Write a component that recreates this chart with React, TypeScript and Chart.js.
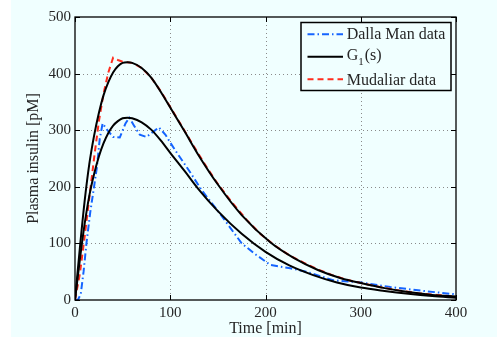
import React, { useEffect, useRef } from 'react';
import { Chart, registerables } from 'chart.js';

Chart.register(...registerables);

// ---------- data ----------
const xTickValues = [0, 100, 200, 300, 400];
const yTickValues = [0, 100, 200, 300, 400, 500];

const dallaTime = [0, 3, 6, 9, 12, 16, 20, 23, 26, 29, 34, 40, 47, 53, 57, 62, 68, 75, 82, 88, 95, 100, 107, 120, 133, 152, 175, 190, 205, 226, 243, 271, 300, 331, 366, 400];
const dallaValue = [0, 0, 10, 50, 100, 155, 200, 235, 285, 312, 300, 288, 287, 312, 322, 308, 292, 288, 297, 305, 292, 278, 260, 228, 194, 153, 100, 80, 62, 56, 50, 35, 31, 23, 16, 10];

const g1DallaTime = [0, 5, 10, 15, 20, 25, 30, 35, 40, 45, 50, 55, 60, 70, 80, 90, 100, 115, 130, 150, 175, 200, 225, 250, 275, 300, 325, 350, 375, 400];
const g1DallaValue = [0, 70, 133, 184, 222, 253, 277, 295, 308, 316, 321, 322, 321, 314, 301, 282, 260, 228, 195, 157, 117, 85, 61, 44, 31, 22, 16, 11, 7, 4];

const g1MudTime = [0, 5, 10, 15, 20, 25, 30, 35, 40, 45, 50, 55, 60, 70, 80, 90, 100, 115, 130, 150, 175, 205, 230, 255, 280, 300, 325, 350, 375, 400];
const g1MudValue = [0, 90, 173, 240, 290, 330, 362, 385, 402, 413, 419, 420, 419, 410, 393, 368, 340, 298, 255, 204, 150, 102, 74, 53, 38, 30, 21, 14, 9, 6];

const mudTime = [0, 5, 10, 15, 20, 25, 30, 35, 40, 45, 50, 60, 70, 80, 90, 100, 110, 120, 130, 140, 150, 165, 180, 195, 210, 225, 240, 255, 270, 285, 300, 320, 340, 360, 380, 400];
const mudValue = [0, 45, 110, 180, 250, 315, 365, 402, 428, 424, 421, 419, 410, 393, 369, 341, 313, 285, 257, 230, 205, 172, 142, 116, 96, 79, 66, 54, 44, 36, 30, 23, 17, 12, 9, 6];

const legendNames = ['Dalla Man data', 'G', 'Mudaliar data'];
const legendSub = '1';
const legendAfterSub = '(s)';

const xTitle = 'Time [min]';
const yTitle = 'Plasma insulin [pM]';

// ---------- styles ----------
const FONT = '"Liberation Serif", "Times New Roman", serif';
const BG = '#f0ffff';
const TEXT = '#262626';
const BLUE = 'rgb(20, 100, 255)';
const RED = 'rgb(255, 45, 30)';
const BLACK = '#000000';
const BLUE_DASH = [7, 3, 1.5, 3];
const RED_DASH = [6, 4];

const toPoints = (t: number[], v: number[]) => t.map((x, i) => ({ x, y: v[i] }));

const framePlugin = {
  id: 'matlabFrame',
  beforeDatasetsDraw(chart: any) {
    const { ctx, chartArea: a, scales } = chart;
    const xs = scales.x;
    const ys = scales.y;
    ctx.save();
    ctx.strokeStyle = '#8a8a8a';
    ctx.lineWidth = 1;
    ctx.setLineDash([1, 3]);
    xTickValues.forEach((v) => {
      if (v === xTickValues[0] || v === xTickValues[xTickValues.length - 1]) return;
      const px = Math.round(xs.getPixelForValue(v)) + 0.5;
      ctx.beginPath();
      ctx.moveTo(px, a.top);
      ctx.lineTo(px, a.bottom);
      ctx.stroke();
    });
    yTickValues.forEach((v) => {
      if (v === yTickValues[0] || v === yTickValues[yTickValues.length - 1]) return;
      const py = Math.round(ys.getPixelForValue(v)) + 0.5;
      ctx.beginPath();
      ctx.moveTo(a.left, py);
      ctx.lineTo(a.right, py);
      ctx.stroke();
    });
    ctx.restore();
  },
  afterDatasetsDraw(chart: any) {
    const { ctx, chartArea: a, scales } = chart;
    const xs = scales.x;
    const ys = scales.y;
    ctx.save();
    ctx.setLineDash([]);
    ctx.strokeStyle = BLACK;
    ctx.lineWidth = 1.3;
    ctx.strokeRect(a.left, a.top, a.right - a.left, a.bottom - a.top);
    const tl = 5;
    ctx.lineWidth = 1;
    xTickValues.forEach((v) => {
      const px = Math.round(xs.getPixelForValue(v)) + 0.5;
      ctx.beginPath();
      ctx.moveTo(px, a.bottom);
      ctx.lineTo(px, a.bottom - tl);
      ctx.moveTo(px, a.top);
      ctx.lineTo(px, a.top + tl);
      ctx.stroke();
    });
    yTickValues.forEach((v) => {
      const py = Math.round(ys.getPixelForValue(v)) + 0.5;
      ctx.beginPath();
      ctx.moveTo(a.left, py);
      ctx.lineTo(a.left + tl, py);
      ctx.moveTo(a.right, py);
      ctx.lineTo(a.right - tl, py);
      ctx.stroke();
    });

    // legend
    const bx = 290, by = 22.5, bw = 150, bh = 68;
    ctx.fillStyle = BG;
    ctx.fillRect(bx, by, bw, bh);
    ctx.lineWidth = 1.5;
    ctx.strokeStyle = BLACK;
    ctx.strokeRect(bx, by, bw, bh);

    const lx0 = 296.5, lx1 = 332, tx = 335.7;
    const rows = [
      { y: 34.3, color: BLUE, dash: BLUE_DASH, base: 39.3 },
      { y: 56.7, color: BLACK, dash: [], base: 60 },
      { y: 79.3, color: RED, dash: RED_DASH, base: 85 },
    ];
    rows.forEach((r, i) => {
      ctx.save();
      ctx.strokeStyle = r.color;
      ctx.lineWidth = 2;
      ctx.setLineDash(r.dash);
      ctx.beginPath();
      ctx.moveTo(lx0, r.y);
      ctx.lineTo(lx1, r.y);
      ctx.stroke();
      ctx.restore();
      ctx.fillStyle = TEXT;
      ctx.textBaseline = 'alphabetic';
      ctx.textAlign = 'left';
      ctx.font = `16px ${FONT}`;
      ctx.fillText(legendNames[i], tx, r.base);
      if (i === 1) {
        const w = ctx.measureText(legendNames[i]).width;
        ctx.font = `11px ${FONT}`;
        ctx.fillText(legendSub, tx + w, r.base + 5);
        const w2 = ctx.measureText(legendSub).width;
        ctx.font = `16px ${FONT}`;
        ctx.fillText(legendAfterSub, tx + w + w2 + 1, r.base);
      }
    });
    ctx.restore();
  },
};

export default function App() {
  const ref = useRef<HTMLCanvasElement | null>(null);

  useEffect(() => {
    if (!ref.current) return;
    const chart = new Chart(ref.current, {
      type: 'line',
      data: {
        datasets: [
          {
            label: 'G1(s) Mudaliar',
            data: toPoints(g1MudTime, g1MudValue),
            borderColor: BLACK,
            borderWidth: 2,
            pointRadius: 0,
            cubicInterpolationMode: 'monotone',
            order: 0,
          },
          {
            label: 'G1(s) Dalla Man',
            data: toPoints(g1DallaTime, g1DallaValue),
            borderColor: BLACK,
            borderWidth: 2,
            pointRadius: 0,
            cubicInterpolationMode: 'monotone',
            order: 0,
          },
          {
            label: 'Mudaliar data',
            data: toPoints(mudTime, mudValue),
            borderColor: RED,
            borderWidth: 2,
            borderDash: RED_DASH,
            pointRadius: 0,
            tension: 0,
            order: 1,
          },
          {
            label: 'Dalla Man data',
            data: toPoints(dallaTime, dallaValue),
            borderColor: BLUE,
            borderWidth: 2,
            borderDash: BLUE_DASH,
            pointRadius: 0,
            tension: 0,
            order: 2,
          },
        ],
      },
      options: {
        animation: false,
        responsive: false,
        maintainAspectRatio: false,
        layout: { padding: { top: 17, right: 41, left: 0, bottom: 0 } },
        plugins: { legend: { display: false }, tooltip: { enabled: false } },
        scales: {
          x: {
            type: 'linear',
            min: 0,
            max: 400,
            grid: { display: false, drawTicks: false },
            border: { display: false },
            ticks: {
              stepSize: 100,
              autoSkip: false,
              maxRotation: 0,
              padding: 4,
              color: TEXT,
              font: { family: FONT, size: 15 },
            },
            title: {
              display: true,
              text: xTitle,
              color: TEXT,
              font: { family: FONT, size: 16, lineHeight: 1 },
              padding: { top: 0, bottom: 0 },
            },
            afterFit: (s: any) => { s.height = 37; },
          },
          y: {
            type: 'linear',
            min: 0,
            max: 500,
            grid: { display: false, drawTicks: false },
            border: { display: false },
            ticks: {
              stepSize: 100,
              autoSkip: false,
              padding: 4,
              color: TEXT,
              font: { family: FONT, size: 15 },
            },
            title: {
              display: true,
              text: yTitle,
              color: TEXT,
              font: { family: FONT, size: 16, lineHeight: 1 },
              padding: { top: 15, bottom: 0 },
            },
            afterFit: (s: any) => { s.width = 64; },
          },
        },
      },
      plugins: [framePlugin],
    } as any);
    return () => chart.destroy();
  }, []);

  return (
    <div style={{ position: 'absolute', left: 0, top: 0, width: 497, height: 343, background: '#ffffff', overflow: 'hidden' }}>
      <canvas
        ref={ref}
        width={486}
        height={337}
        style={{ position: 'absolute', left: 11, top: 0, width: 486, height: 337, background: BG }}
      />
    </div>
  );
}
